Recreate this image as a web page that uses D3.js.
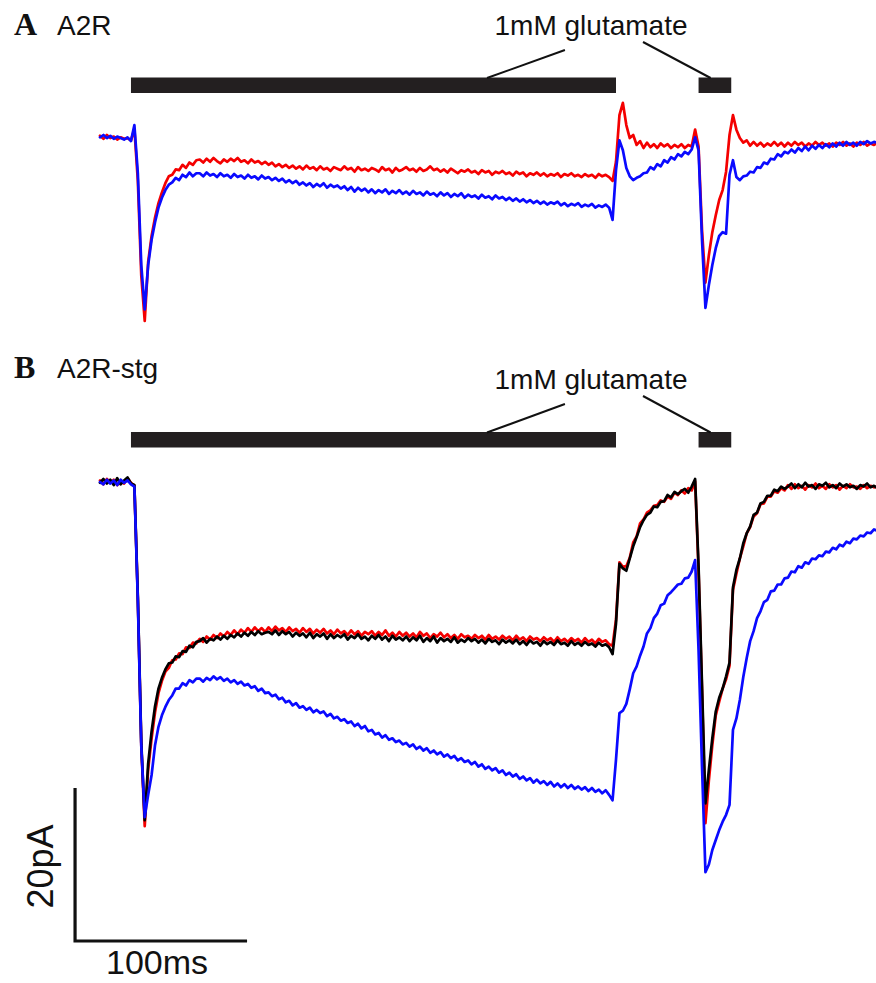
<!DOCTYPE html>
<html><head><meta charset="utf-8">
<script src="https://cdn.jsdelivr.net/npm/d3@7"></script>
<style>html,body{margin:0;padding:0;background:#fff}svg{display:block}</style>
</head><body>
<svg id="chart" width="876" height="983"></svg>
<script>
// ---------------- DATA ----------------
const sampleIntervalMs = 2;                 // one sample every 2 ms
const glutamatePulsesMs = [[18, 300], [348, 367]];
const panelLetters = ["A", "B"];
const panelTitles = ["A2R", "A2R-stg"];
const stimulusLabel = "1mM glutamate";
const scaleBarTimeMs = 100;
const scaleBarCurrentPA = 20;
const scaleBarTimeLabel = "100ms";
const scaleBarCurrentLabel = "20pA";

// Panel A (A2R), currents in pA relative to baseline
const a2rRed = [
 -0.1,-0.5,0.0,-0.4,-0.2,-0.6,-0.3,-0.5,-0.4,-0.7,
 0.8,-6.0,-18.4,-24.3,-16.6,-13.2,-10.8,-8.9,-7.5,-6.3,
 -5.4,-5.2,-4.5,-4.6,-3.9,-4.3,-3.6,-3.9,-3.3,
 -3.2,-3.6,-3.1,-3.5,-3.0,-3.4,-3.7,-3.2,-3.5,-3.1,
 -3.4,-3.0,-3.5,-3.3,-3.7,-3.2,-3.6,-3.4,-3.8,-3.5,
 -3.9,-3.6,-4.1,-3.8,-4.2,-3.9,-4.3,-4.0,-4.4,-4.1,
 -4.5,-4.0,-4.4,-4.2,-4.6,-4.1,-4.5,-4.3,-4.7,-4.2,
 -4.4,-4.6,-4.1,-4.5,-4.3,-4.8,-4.2,-4.6,-4.4,-4.7,
 -4.3,-4.5,-4.8,-4.2,-4.6,-4.4,-4.9,-4.3,-4.7,-4.5,
 -4.2,-4.6,-4.4,-4.8,-4.3,-4.7,-4.5,-4.1,-4.6,-4.4,
 -4.8,-4.5,-4.9,-4.4,-4.7,-5.0,-4.6,-4.8,-4.5,-4.9,
 -4.7,-5.1,-4.6,-4.9,-4.7,-5.2,-4.8,-5.0,-4.7,-5.1,
 -4.9,-5.3,-4.8,-5.1,-4.9,-5.4,-5.0,-5.2,-4.9,-5.3,
 -5.0,-5.4,-5.1,-5.3,-5.0,-5.5,-5.1,-5.3,-5.0,-5.4,
 -5.2,-5.5,-5.1,-5.4,-5.2,-5.6,-5.1,-5.4,-5.2,-5.5,
 -6.0,-3.5,2.6,4.2,1.3,-0.4,0.0,-1.3,-0.8,-1.7,
 -1.0,-1.6,-1.2,-1.7,-1.1,-1.5,-1.2,-1.7,-1.3,-1.6,
 -1.2,-1.7,-1.3,-1.5,0.7,-1.5,-12.4,-19.3,-15.7,-12.7,
 -10.5,-8.5,-7.2,-4.8,0.0,2.6,0.7,-0.4,-1.0,-0.7,
 -1.4,-0.9,-1.4,-1.0,-1.5,-1.1,-1.4,-0.9,-1.4,-1.0,
 -1.5,-1.0,-1.4,-0.9,-1.3,-1.0,-1.5,-1.1,-1.4,-0.9,
 -1.3,-1.0,-1.4,-1.1,-1.5,-1.0,-1.3,-0.9,-1.4,-1.1,
 -1.5,-1.0,-1.3,-0.9,-1.4,-1.1,-1.3,-1.0
];
const a2rBlue = [
 -0.3,0.0,-0.4,-0.1,-0.5,-0.2,-0.4,-0.6,-0.3,-0.8,
 1.3,-5.0,-17.0,-22.8,-17.0,-13.7,-11.4,-9.5,-8.2,-7.2,
 -6.5,-6.2,-5.6,-5.9,-5.2,-5.5,-4.9,-5.4,-5.0,
 -5.0,-5.4,-4.9,-5.3,-5.1,-5.5,-5.0,-5.4,-5.2,-5.6,
 -5.1,-5.5,-5.3,-5.7,-5.2,-5.6,-5.4,-5.8,-5.3,-5.7,
 -5.5,-5.9,-5.6,-6.0,-5.7,-6.2,-5.9,-6.3,-6.0,-6.5,
 -6.2,-6.6,-6.3,-6.8,-6.4,-6.7,-6.3,-6.9,-6.5,-6.8,
 -6.6,-7.0,-6.7,-7.2,-6.8,-7.4,-6.9,-7.3,-7.0,-7.5,
 -7.1,-7.6,-7.2,-7.5,-7.1,-7.7,-7.3,-7.6,-7.2,-7.7,
 -7.4,-7.8,-7.3,-7.7,-7.5,-7.9,-7.4,-7.8,-7.6,-8.0,
 -7.5,-7.9,-7.6,-8.1,-7.7,-8.0,-7.6,-8.2,-7.8,-8.1,
 -7.9,-8.3,-7.8,-8.2,-8.0,-8.4,-7.9,-8.3,-8.1,-8.5,
 -8.2,-8.6,-8.3,-8.7,-8.4,-8.8,-8.5,-8.9,-8.6,-9.0,
 -8.7,-9.1,-8.8,-9.0,-8.7,-9.2,-8.9,-9.3,-9.0,-9.2,
 -8.9,-9.4,-9.1,-9.3,-9.0,-9.5,-9.2,-9.4,-9.1,-9.5,
 -11.1,-4.6,-0.7,-2.0,-4.3,-5.4,-5.9,-5.6,-5.4,-5.0,
 -4.9,-4.2,-4.5,-3.8,-4.1,-3.3,-3.6,-2.9,-3.2,-2.5,
 -2.8,-2.2,-2.5,-1.9,-0.3,-2.0,-13.7,-22.6,-19.6,-17.0,
 -14.8,-13.2,-12.7,-12.9,-5.2,-3.3,-5.5,-5.9,-5.4,-5.3,
 -4.8,-4.9,-4.2,-4.3,-3.6,-3.8,-3.1,-3.2,-2.5,-2.8,
 -2.2,-2.4,-1.9,-2.3,-1.7,-2.1,-1.5,-2.0,-1.4,-1.8,
 -1.3,-1.7,-1.2,-1.6,-1.1,-1.5,-1.0,-1.4,-0.9,-1.3,
 -1.0,-1.4,-0.9,-1.2,-0.8,-1.1,-0.9,-1.0
];

// Panel B (A2R-stg)
const stgRed = [
 0.2,-0.3,0.4,-0.1,0.3,-0.4,0.1,-0.2,0.5,-0.1,
 -0.5,-15.3,-34.4,-45.0,-37.6,-33.5,-30.1,-27.6,-26.0,-24.8,
 -24.3,-23.3,-23.2,-22.4,-22.5,-21.6,-21.7,-21.0,-21.1,
 -20.5,-20.9,-20.2,-20.6,-20.0,-20.4,-19.8,-20.2,-19.6,-20.0,
 -19.4,-19.9,-19.3,-19.7,-19.1,-19.6,-19.0,-19.5,-19.1,-19.6,
 -19.0,-19.5,-18.9,-19.4,-19.1,-19.6,-19.0,-19.5,-19.2,-19.7,
 -19.1,-19.6,-19.2,-19.8,-19.3,-19.7,-19.2,-19.8,-19.4,-19.9,
 -19.3,-19.8,-19.5,-20.0,-19.4,-19.9,-19.5,-20.1,-19.6,-19.9,
 -19.5,-20.1,-19.6,-20.0,-19.4,-20.1,-19.7,-20.2,-19.6,-20.1,
 -19.7,-20.2,-19.8,-20.3,-19.6,-20.1,-19.8,-20.4,-19.9,-20.2,
 -19.7,-20.3,-19.9,-20.4,-20.0,-20.5,-19.9,-20.3,-20.1,-20.5,
 -20.0,-20.4,-20.1,-20.6,-20.0,-20.5,-20.2,-20.6,-20.1,-20.5,
 -20.2,-20.7,-20.1,-20.6,-20.3,-20.8,-20.2,-20.6,-20.4,-20.8,
 -20.3,-20.7,-20.4,-20.9,-20.3,-20.8,-20.5,-20.9,-20.4,-20.8,
 -20.5,-21.0,-20.4,-20.9,-20.6,-21.1,-20.5,-20.9,-20.7,-21.2,
 -21.4,-18.0,-10.5,-11.1,-11.0,-9.9,-7.9,-7.1,-5.4,-4.9,
 -4.0,-3.7,-3.1,-3.0,-2.4,-2.6,-1.9,-2.2,-1.4,-1.7,
 -1.1,-1.5,-0.8,-1.1,0.1,-11.5,-27.2,-44.6,-39.0,-34.4,
 -30.5,-28.7,-27.0,-25.8,-24.0,-14.1,-12.0,-10.0,-8.4,-6.7,
 -5.9,-4.5,-4.1,-2.9,-2.8,-1.9,-1.9,-1.2,-1.4,-0.8,
 -1.1,-0.4,-0.9,-0.3,-0.8,-0.5,-1.0,-0.4,-0.7,-0.2,
 -0.8,-0.5,-0.9,-0.3,-0.7,-0.4,-1.0,-0.5,-0.8,-0.3,
 -0.7,-0.6,-0.9,-0.4,-0.8,-0.5,-0.7,-0.6
];
const stgBlack = [
 -0.1,0.4,-0.2,0.3,-0.4,0.5,-0.3,0.2,0.6,-0.2,
 -0.4,-15.0,-34.0,-44.2,-36.8,-32.6,-29.3,-27.0,-25.6,-24.5,
 -23.7,-23.6,-22.8,-22.9,-22.1,-22.2,-21.4,-21.6,-20.9,
 -20.8,-20.4,-21.0,-20.5,-20.7,-20.2,-20.6,-20.1,-20.5,-20.0,
 -20.3,-19.8,-20.2,-19.7,-20.1,-19.6,-20.0,-19.5,-19.9,-19.7,
 -19.6,-19.9,-19.4,-20.0,-19.5,-19.9,-19.6,-20.2,-19.7,-20.1,
 -19.8,-20.3,-19.7,-20.4,-19.9,-20.2,-19.8,-20.5,-19.9,-20.4,
 -20.0,-20.3,-19.9,-20.6,-20.1,-20.4,-19.9,-20.5,-20.2,-20.7,
 -20.1,-20.5,-20.0,-20.6,-20.2,-20.8,-20.1,-20.6,-20.3,-20.7,
 -20.2,-20.8,-20.3,-20.7,-20.1,-20.9,-20.4,-20.8,-20.2,-21.0,
 -20.4,-20.8,-20.5,-20.9,-20.3,-21.0,-20.6,-20.9,-20.4,-20.8,
 -20.5,-21.0,-20.6,-21.1,-20.5,-20.9,-20.7,-21.2,-20.6,-21.0,
 -20.7,-21.1,-20.6,-21.2,-20.8,-21.3,-20.7,-21.1,-20.9,-21.4,
 -20.8,-21.2,-20.9,-21.3,-20.7,-21.2,-21.0,-21.4,-20.8,-21.3,
 -21.0,-21.4,-20.9,-21.3,-21.1,-21.5,-21.0,-21.4,-21.2,-21.6,
 -22.5,-18.5,-10.7,-11.3,-11.6,-10.0,-8.4,-7.2,-5.9,-5.0,
 -4.3,-4.0,-3.2,-3.3,-2.6,-2.5,-1.7,-2.0,-1.3,-1.6,
 -1.2,-0.9,-1.4,-0.6,0.4,-11.0,-26.5,-42.0,-37.6,-33.5,
 -30.0,-28.2,-27.0,-25.4,-23.6,-13.8,-11.5,-10.0,-8.0,-6.7,
 -5.8,-4.3,-4.0,-2.8,-2.6,-1.8,-1.8,-1.0,-1.2,-0.6,
 -0.9,-0.6,-0.2,-0.8,-0.3,-0.7,-0.1,-0.6,-0.4,-0.9,
 -0.3,-0.5,-0.1,-0.7,-0.4,-0.8,-0.2,-0.6,-0.3,-0.7,
 -0.5,-0.9,-0.4,-0.6,-0.2,-0.7,-0.5,-0.8
];
const stgBlue = [
 0.0,-0.3,0.3,-0.2,0.2,-0.4,0.3,-0.1,0.2,-0.3,
 -0.6,-15.5,-34.5,-43.8,-40.9,-38.3,-34.4,-32.0,-30.5,-29.4,
 -28.5,-27.9,-27.0,-27.0,-26.3,-26.6,-25.9,-26.2,-25.7,
 -25.7,-26.1,-25.6,-25.9,-25.4,-25.8,-25.5,-26.0,-25.7,-26.2,
 -25.9,-26.4,-26.1,-26.6,-26.4,-26.9,-26.7,-27.3,-27.0,-27.6,
 -27.5,-28.0,-27.8,-28.4,-28.2,-28.8,-28.6,-29.2,-28.9,-29.5,
 -29.3,-29.8,-29.5,-30.1,-29.8,-30.2,-30.0,-30.6,-30.3,-30.9,
 -30.7,-31.2,-31.0,-31.5,-31.3,-31.9,-31.6,-32.2,-31.9,-32.6,
 -32.4,-33.0,-32.8,-33.4,-33.1,-33.7,-33.5,-34.0,-33.8,-34.3,
 -34.1,-34.6,-34.3,-34.9,-34.6,-35.1,-34.8,-35.4,-35.1,-35.6,
 -35.3,-35.9,-35.6,-36.1,-35.8,-36.4,-36.1,-36.6,-36.4,-36.9,
 -36.6,-37.2,-36.9,-37.5,-37.2,-37.7,-37.4,-38.0,-37.7,-38.3,
 -38.0,-38.5,-38.2,-38.8,-38.5,-39.0,-38.7,-39.3,-38.9,-39.4,
 -39.1,-39.6,-39.2,-39.8,-39.4,-39.9,-39.5,-40.0,-39.6,-40.1,
 -39.8,-40.2,-39.9,-40.4,-40.0,-40.5,-40.2,-40.7,-40.3,-40.9,
 -41.6,-36.3,-30.2,-29.9,-29.0,-27.1,-25.0,-24.1,-22.7,-21.5,
 -19.8,-19.1,-17.8,-17.2,-16.1,-15.9,-14.8,-14.4,-13.9,-13.4,
 -13.3,-12.6,-12.5,-11.7,-10.2,-22.0,-37.2,-51.0,-50.0,-48.1,
 -46.8,-45.5,-44.4,-43.5,-42.2,-32.4,-30.9,-28.5,-25.5,-23.0,
 -20.8,-19.5,-17.8,-16.9,-15.7,-15.4,-14.3,-14.2,-13.4,-13.4,
 -12.6,-12.5,-11.7,-11.8,-11.0,-11.2,-10.5,-10.7,-10.0,-10.1,
 -9.6,-9.7,-9.1,-9.2,-8.6,-8.8,-8.2,-8.4,-7.8,-8.0,
 -7.4,-7.5,-7.0,-7.1,-6.6,-6.7,-6.2,-6.4
];

// ---------------- DRAWING ----------------
const svg = d3.select("#chart");
svg.append("rect").attr("width", 876).attr("height", 983).attr("fill", "#fff");

const totalMs = (a2rRed.length - 1) * sampleIntervalMs;
const x = d3.scaleLinear().domain([0, totalMs]).range([100, 100 + totalMs * 1.72]);
const pxPerPA = 7.65;
const yA = d3.scaleLinear().domain([0, -30]).range([135, 135 + 30 * pxPerPA]);
const yB = d3.scaleLinear().domain([0, -60]).range([482, 482 + 60 * pxPerPA]);

const panels = [
  { letter: panelLetters[0], title: panelTitles[0], y: yA, barTop: 77.5, textY: 35, labelY: 35,
    traces: [{ d: a2rRed, c: "#f40000" }, { d: a2rBlue, c: "#0a0aff" }] },
  { letter: panelLetters[1], title: panelTitles[1], y: yB, barTop: 432, textY: 378, labelY: 389,
    traces: [{ d: stgRed, c: "#f40000" }, { d: stgBlack, c: "#000" }, { d: stgBlue, c: "#0a0aff" }] }
];

panels.forEach(p => {
  const g = svg.append("g");
  g.append("text").attr("x", 14).attr("y", p.textY)
    .attr("font-family", "'Liberation Serif','Times New Roman',serif")
    .attr("font-weight", "bold").attr("font-size", 32).attr("fill", "#111").text(p.letter);
  g.append("text").attr("x", 57).attr("y", p.textY)
    .attr("font-family", "'Liberation Sans',Arial,sans-serif")
    .attr("font-size", 28).attr("fill", "#111").text(p.title);

  // glutamate application bars
  g.selectAll("rect.bar").data(glutamatePulsesMs).join("rect")
    .attr("x", d => x(d[0])).attr("width", d => x(d[1]) - x(d[0]))
    .attr("y", p.barTop).attr("height", 15.5).attr("fill", "#231f20");

  // label + leaders
  g.append("text").attr("x", 591).attr("y", p.labelY).attr("text-anchor", "middle")
    .attr("font-family", "'Liberation Sans',Arial,sans-serif")
    .attr("font-size", 28).attr("fill", "#111").text(stimulusLabel);
  const leaders = [[270.3, 225, p.labelY + 15], [315.7, 355, p.labelY + 7]];
  leaders.forEach(l => {
    g.append("line").attr("x1", x(l[0])).attr("y1", l[2])
      .attr("x2", x(l[1])).attr("y2", p.barTop + 0.5)
      .attr("stroke", "#111").attr("stroke-width", 2);
  });

  const line = d3.line().x((d, i) => x(i * sampleIntervalMs)).y(d => p.y(d));
  p.traces.forEach(t => {
    g.append("path").attr("d", line(t.d)).attr("fill", "none")
      .attr("stroke", t.c).attr("stroke-width", 2.7)
      .attr("stroke-linejoin", "round").attr("stroke-linecap", "round");
  });
});

// scale bar (drawn in panel B units)
const sbT0 = -14.5;
const sbBottom = -60;
const sb = svg.append("g").attr("stroke", "#111").attr("stroke-width", 3.2).attr("fill", "none");
sb.append("path").attr("d", d3.line()([
  [x(sbT0), yB(sbBottom + scaleBarCurrentPA)],
  [x(sbT0), yB(sbBottom)],
  [x(sbT0 + scaleBarTimeMs), yB(sbBottom)]
]));
svg.append("text").attr("x", (x(sbT0) + x(sbT0 + scaleBarTimeMs)) / 2 - 4).attr("y", 974)
  .attr("text-anchor", "middle").attr("font-family", "'Liberation Sans',Arial,sans-serif")
  .attr("font-size", 34).attr("fill", "#111").text(scaleBarTimeLabel);
svg.append("text")
  .attr("transform", `translate(${x(sbT0) - 22},${(yB(sbBottom) + yB(sbBottom + scaleBarCurrentPA)) / 2 + 2}) rotate(-90)`)
  .attr("text-anchor", "middle").attr("font-family", "'Liberation Sans',Arial,sans-serif")
  .attr("font-size", 36).attr("fill", "#111").text(scaleBarCurrentLabel);
</script>
</body></html>
